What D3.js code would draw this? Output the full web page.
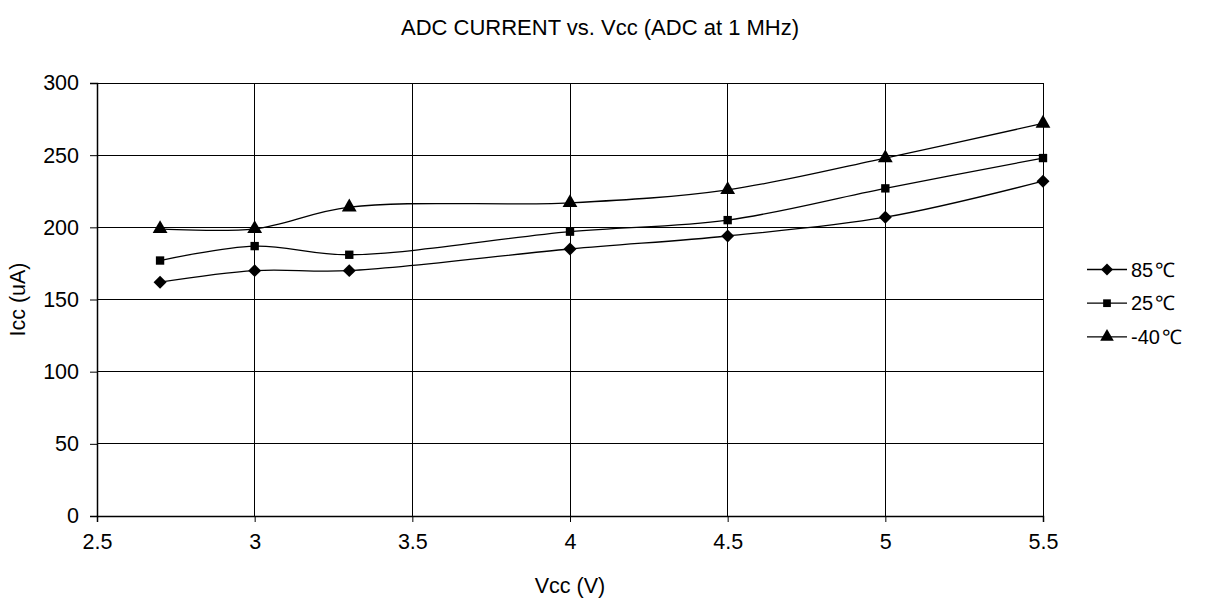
<!DOCTYPE html>
<html>
<head>
<meta charset="utf-8">
<script src="https://cdn.jsdelivr.net/npm/d3@7"></script>
<style>
  body { margin: 0; background: #fff; }
  svg text { font-family: "Liberation Sans", Arial, sans-serif; fill: #000; }
</style>
</head>
<body>
<div id="chart"></div>
<script>
// data
var vcc = [2.7, 3.0, 3.3, 4.0, 4.5, 5.0, 5.5];
var icc85 = [162, 170, 170, 185, 194, 207, 232];
var icc25 = [177, 187, 181, 197, 205, 227, 248];
var iccM40 = [199, 199, 214, 217, 226, 248, 272];
var seriesNames = ["85", "25", "-40"];
var unit = "\u2103";
var xTicks = [2.5, 3, 3.5, 4, 4.5, 5, 5.5];
var yTicks = [0, 50, 100, 150, 200, 250, 300];

var W = 1205, H = 599;
var pL = 97, pR = 1043, pT = 83, pB = 516;

var svg = d3.select("#chart").append("svg")
  .attr("width", W).attr("height", H);

var x = d3.scaleLinear().domain([2.5, 5.5]).range([pL, pR]);
var y = d3.scaleLinear().domain([0, 300]).range([pB, pT]);

// grid
svg.append("g").selectAll("line").data(yTicks.slice(1)).enter().append("line")
  .attr("x1", pL).attr("x2", pR)
  .attr("y1", function(d){ return y(d); }).attr("y2", function(d){ return y(d); })
  .attr("stroke", "#000").attr("stroke-width", 1).attr("shape-rendering", "crispEdges");
svg.append("g").selectAll("line").data(xTicks.slice(1)).enter().append("line")
  .attr("y1", pT).attr("y2", pB)
  .attr("x1", function(d){ return x(d); }).attr("x2", function(d){ return x(d); })
  .attr("stroke", "#000").attr("stroke-width", 1).attr("shape-rendering", "crispEdges");

// axes
var xAxis = svg.append("g").attr("transform", "translate(0," + pB + ")")
  .call(d3.axisBottom(x).tickValues(xTicks).tickSize(6).tickPadding(12).tickFormat(d3.format("")));
var yAxis = svg.append("g").attr("transform", "translate(" + pL + ",0)")
  .call(d3.axisLeft(y).tickValues(yTicks).tickSize(7).tickPadding(11));
[xAxis, yAxis].forEach(function(a){
  a.select(".domain").attr("stroke", "#000").attr("stroke-width", 1.5);
  a.selectAll(".tick line").attr("stroke", "#000");
  a.selectAll("text").style("font-size", "21.5px").style("font-family", "'Liberation Sans', Arial, sans-serif");
});

// titles
svg.append("text").attr("x", 600).attr("y", 35).attr("text-anchor", "middle")
  .style("font-size", "22px").text("ADC CURRENT vs. Vcc (ADC at 1 MHz)");
svg.append("text").attr("x", 570).attr("y", 593).attr("text-anchor", "middle")
  .style("font-size", "21.5px").text("Vcc (V)");
svg.append("text").attr("transform", "translate(25," + ((pT + pB) / 2) + ") rotate(-90)")
  .attr("text-anchor", "middle").style("font-size", "21.5px").text("Icc (uA)");

// series
var diamond = { draw: function(ctx, size) {
  var r = Math.sqrt(size / 2);
  ctx.moveTo(0, -r); ctx.lineTo(r, 0); ctx.lineTo(0, r); ctx.lineTo(-r, 0); ctx.closePath();
} };
var series = [
  { name: seriesNames[0], vals: icc85, sym: diamond, size: 84 },
  { name: seriesNames[1], vals: icc25, sym: d3.symbolSquare, size: 70 },
  { name: seriesNames[2], vals: iccM40, sym: d3.symbolTriangle, size: 95 }
];

var line = d3.line()
  .x(function(d){ return x(d[0]); })
  .y(function(d){ return y(d[1]); })
  .curve(d3.curveCatmullRom.alpha(0.5));

series.forEach(function(s){
  var pts = vcc.map(function(v, i){ return [v, s.vals[i]]; });
  svg.append("path").datum(pts)
    .attr("d", line).attr("fill", "none").attr("stroke", "#000").attr("stroke-width", 1.3);
  svg.append("g").selectAll("path").data(pts).enter().append("path")
    .attr("d", d3.symbol().type(s.sym).size(s.size))
    .attr("transform", function(d){ return "translate(" + x(d[0]) + "," + y(d[1]) + ")"; })
    .attr("fill", "#000");
});

// legend
var lg = svg.append("g").attr("transform", "translate(1087,269.5)");
series.forEach(function(s, i){
  var g = lg.append("g").attr("transform", "translate(0," + (i * 33.7) + ")");
  g.append("line").attr("x1", 0).attr("x2", 40).attr("stroke", "#000").attr("stroke-width", 1.3);
  g.append("path").attr("d", d3.symbol().type(s.sym).size(s.size * 0.85)).attr("transform", "translate(20,0)");
  var t = g.append("text").attr("x", 44).attr("y", 7).style("font-size", "20px");
  t.append("tspan").text(s.name);
  t.append("tspan").attr("dx", 2).text(unit);
});
</script>
</body>
</html>
